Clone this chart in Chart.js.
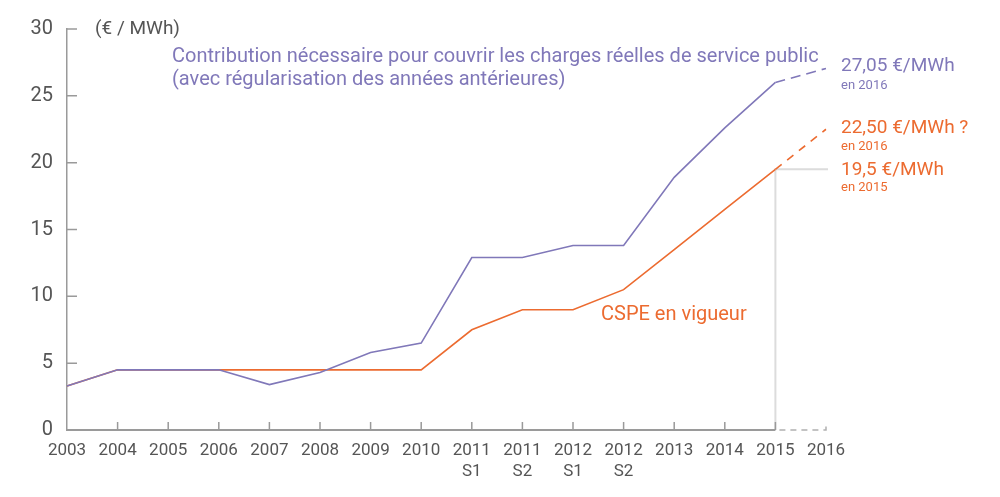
<!DOCTYPE html>
<html>
<head>
<meta charset="utf-8">
<script src="https://cdn.jsdelivr.net/npm/chart.js@4"></script>
<style>
  html, body { margin: 0; padding: 0; background: #fff; }
  #wrap { width: 1000px; height: 497px; }
</style>
</head>
<body>
<div id="wrap"><canvas id="chart" width="1000" height="497"></canvas></div>
<script>
const categories = [
  "2003", "2004", "2005", "2006", "2007", "2008", "2009", "2010",
  ["2011", "S1"], ["2011", "S2"], ["2012", "S1"], ["2012", "S2"],
  "2013", "2014", "2015", "2016",
];

// contribution nécessaire (charges réelles) et CSPE en vigueur, en €/MWh
const contributionNecessaire = [3.3, 4.5, 4.5, 4.5, 3.4, 4.3, 5.8, 6.5, 12.9, 12.9, 13.8, 13.8, 18.9, 22.6, 26.0, 27.05];
const cspeEnVigueur = [3.3, 4.5, 4.5, 4.5, 4.5, 4.5, 4.5, 4.5, 7.5, 9.0, 9.0, 10.5, 13.5, 16.5, 19.5, 22.5];

const yTicks = [0, 5, 10, 15, 20, 25, 30];

const purple = "#8078b9";
const orange = "#ec6b30";
const grey = "#555";
const last = categories.length - 1;

// dernier segment (2015 -> 2016) en pointillés
function dashLast(dash) {
  return (ctx) => (ctx.p1DataIndex === last ? dash : undefined);
}

const decor = {
  id: "decor",
  beforeDatasetsDraw(chart) {
    const { ctx, scales: { x, y }, chartArea } = chart;
    const x15 = x.getPixelForValue(last - 1);
    const x16 = x.getPixelForValue(last);
    const y0 = y.getPixelForValue(0);
    const yRef = y.getPixelForValue(cspeEnVigueur[last - 1]);
    ctx.save();

    // repère 19,5 en 2015
    ctx.strokeStyle = "#dcdcdc";
    ctx.lineWidth = 2;
    ctx.beginPath();
    ctx.moveTo(x15, y0);
    ctx.lineTo(x15, yRef);
    ctx.lineTo(x16 + 2, yRef);
    ctx.stroke();

    // axe des x
    ctx.strokeStyle = "#9a9a9a";
    ctx.lineWidth = 2;
    ctx.beginPath();
    ctx.moveTo(chartArea.left, y0);
    ctx.lineTo(x15, y0);
    ctx.stroke();
    ctx.lineWidth = 1.5;
    ctx.beginPath();
    for (let i = 1; i < last; i++) {
      const px = x.getPixelForValue(i);
      ctx.moveTo(px, y0);
      ctx.lineTo(px, y0 - 8);
    }
    ctx.stroke();
    ctx.strokeStyle = "#b0b0b0";
    ctx.setLineDash([6, 5]);
    ctx.beginPath();
    ctx.moveTo(x15 + 4, y0);
    ctx.lineTo(x16, y0);
    ctx.lineTo(x16, y0 - 8);
    ctx.stroke();
    ctx.setLineDash([]);

    // graduations y vers l'intérieur
    ctx.strokeStyle = "#9a9a9a";
    ctx.lineWidth = 1.5;
    ctx.beginPath();
    yTicks.forEach((v) => {
      if (v === 0) return;
      const py = y.getPixelForValue(v);
      ctx.moveTo(chartArea.left, py);
      ctx.lineTo(chartArea.left + 10, py);
    });
    ctx.stroke();
    ctx.restore();
  },
  afterDraw(chart) {
    const { ctx, scales: { x, y }, chartArea } = chart;
    const rx = chartArea.right + 15;
    ctx.save();
    ctx.textBaseline = "middle";
    ctx.textAlign = "left";

    ctx.font = "19px Roboto";
    ctx.fillStyle = grey;
    ctx.fillText("(€ / MWh)", 95, y.getPixelForValue(30));

    ctx.font = "20px Roboto";
    ctx.fillStyle = purple;
    ctx.fillText("Contribution nécessaire pour couvrir les charges réelles de service public", 172, 57);
    ctx.fillText("(avec régularisation des années antérieures)", 172, 80);

    const yP = y.getPixelForValue(contributionNecessaire[last]);
    const yO = y.getPixelForValue(cspeEnVigueur[last]);
    const yR = y.getPixelForValue(cspeEnVigueur[last - 1]);

    ctx.font = "19px Roboto";
    ctx.fillText("27,05 €/MWh", rx, yP - 2);
    ctx.fillStyle = orange;
    ctx.fillText("22,50 €/MWh ?", rx, yO - 1);
    ctx.fillText("19,5 €/MWh", rx, yR + 1);
    ctx.font = "20px Roboto";
    ctx.fillText("CSPE en vigueur", 601, 315);

    ctx.font = "13px Roboto";
    ctx.fillStyle = purple;
    ctx.fillText("en 2016", rx, yP + 17);
    ctx.fillStyle = orange;
    ctx.fillText("en 2016", rx, yO + 17);
    ctx.fillText("en 2015", rx, yR + 18);
    ctx.restore();
  },
};

new Chart(document.getElementById("chart"), {
  type: "line",
  data: {
    labels: categories,
    datasets: [
      {
        label: "Contribution nécessaire",
        data: contributionNecessaire,
        borderColor: purple,
        borderWidth: 1.6,
        pointRadius: 0,
        tension: 0,
        segment: { borderDash: dashLast([10, 6]) },
      },
      {
        label: "CSPE en vigueur",
        data: cspeEnVigueur,
        borderColor: orange,
        borderWidth: 1.6,
        pointRadius: 0,
        tension: 0,
        segment: { borderDash: dashLast([8, 7]) },
      },
    ],
  },
  options: {
    responsive: false,
    animation: false,
    layout: { padding: { top: 29, right: 174, left: 0, bottom: 0 } },
    plugins: { legend: { display: false }, tooltip: { enabled: false } },
    scales: {
      x: {
        offset: false,
        grid: { display: false, drawTicks: false },
        border: { display: false },
        ticks: {
          color: grey,
          font: { family: "Roboto", size: 17, lineHeight: 1.25 },
          padding: 10,
          maxRotation: 0,
          autoSkip: false,
        },
        afterFit(scale) { scale.height = 67; },
      },
      y: {
        min: 0,
        max: 30,
        grid: { display: false, drawTicks: false },
        border: { display: true, color: "#9a9a9a", width: 1.5 },
        ticks: {
          color: grey,
          font: { family: "Roboto", size: 20 },
          padding: 14,
        },
        afterBuildTicks(scale) { scale.ticks = yTicks.map((v) => ({ value: v })); },
        afterFit(scale) { scale.width = 67; },
      },
    },
  },
  plugins: [decor],
});
</script>
</body>
</html>
